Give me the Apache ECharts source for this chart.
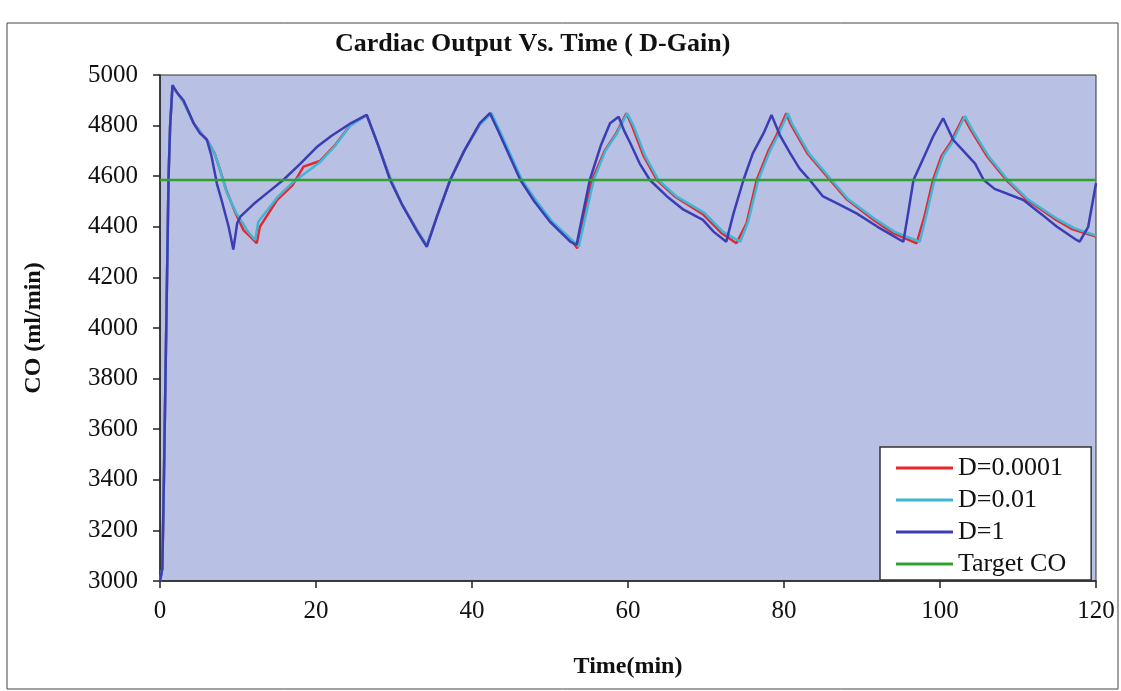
<!DOCTYPE html>
<html>
<head>
<meta charset="utf-8">
<title>Cardiac Output Vs. Time</title>
<script src="https://cdn.jsdelivr.net/npm/echarts@6/dist/echarts.min.js"></script>
<style>
html, body { margin: 0; padding: 0; background: #fff; }
#chart { width: 1121px; height: 691px; }
</style>
</head>
<body>
<div id="chart"></div>
<script>
// readings: [time (min), CO (ml/min)]
var xTicks = [0, 20, 40, 60, 80, 100, 120];
var yTicks = [3000, 3200, 3400, 3600, 3800, 4000, 4200, 4400, 4600, 4800, 5000];
var targetCO = 4585;

var dGain0001 = [
    [0, 3000], [0.3, 3050], [0.5, 3400], [0.7, 3800], [0.9, 4200], [1.1, 4600], [1.3, 4800], [1.6, 4955],
    [3.0, 4895], [4.3, 4810], [5.3, 4770], [6.2, 4735], [7, 4690], [7.7, 4625], [8.5, 4545], [9.6, 4460],
    [10.7, 4387], [11.6, 4360], [12.4, 4335], [12.8, 4400], [15, 4506], [17, 4565], [18.4, 4638], [20.5, 4660],
    [22.5, 4725], [24.4, 4802], [26.5, 4842], [26.9, 4810], [28, 4720], [29.6, 4585], [31, 4490], [33, 4385],
    [34.2, 4325], [35.5, 4440], [37.2, 4585], [39, 4700], [41, 4805], [42.4, 4849], [43.6, 4770], [46.3, 4585],
    [48.2, 4500], [50.2, 4420], [52.8, 4345], [53.5, 4315], [54.2, 4420], [55.4, 4585], [57, 4700], [58.5, 4770],
    [59.8, 4849], [60.5, 4800], [62, 4680], [63.7, 4585], [66, 4520], [69.6, 4450], [72, 4375], [73.9, 4335],
    [75.2, 4414], [76.5, 4585], [78, 4700], [79, 4760], [80.3, 4849], [80.8, 4809], [83, 4690], [85.9, 4585],
    [88, 4510], [91.5, 4427], [94, 4375], [97, 4335], [98, 4440], [99.1, 4585], [100.2, 4680], [101.3, 4730],
    [103, 4835], [104, 4780], [106, 4680], [108.5, 4585], [111, 4510], [114.9, 4427], [117, 4390], [120, 4361]
];

var dGain001 = [
    [0, 3000], [0.3, 3050], [0.5, 3400], [0.7, 3800], [0.9, 4200], [1.1, 4600], [1.3, 4800], [1.6, 4955],
    [3.0, 4895], [4.3, 4810], [5.3, 4770], [6.2, 4735], [7, 4690], [7.7, 4625], [8.5, 4540], [9.0, 4506],
    [9.8, 4453], [10.5, 4420], [11.3, 4380], [12.2, 4348], [12.6, 4420], [15, 4515], [17, 4575], [20.5, 4655],
    [22.5, 4722], [24.4, 4800], [26.5, 4842], [26.9, 4810], [28, 4720], [29.6, 4585], [31, 4490], [33, 4385],
    [34.2, 4325], [35.5, 4440], [37.2, 4585], [39, 4700], [41, 4805], [42.5, 4849], [43.7, 4770], [46.4, 4585],
    [48.3, 4500], [50.3, 4420], [52.9, 4345], [53.7, 4322], [54.4, 4420], [55.6, 4585], [57.1, 4700], [58.6, 4770],
    [59.9, 4849], [60.7, 4800], [62.2, 4680], [63.9, 4585], [66.2, 4520], [69.8, 4455], [72.2, 4380], [74.4, 4341],
    [75.4, 4420], [76.7, 4585], [78.2, 4700], [79.2, 4760], [80.5, 4849], [81, 4809], [83.2, 4690], [86.1, 4585],
    [88.2, 4510], [91.7, 4430], [94.2, 4380], [97.4, 4341], [98.2, 4440], [99.3, 4585], [100.4, 4680], [101.5, 4730],
    [103.2, 4838], [104.2, 4780], [106.2, 4680], [108.7, 4585], [111.2, 4510], [115.1, 4430], [117.2, 4395], [120, 4365]
];

var dGain1 = [
    [0, 3000], [0.3, 3050], [0.5, 3400], [0.7, 3800], [0.9, 4200], [1.1, 4600], [1.3, 4800], [1.6, 4960],
    [2.2, 4930], [3.0, 4900], [3.6, 4860], [4.3, 4810], [5.1, 4770], [6.0, 4745], [6.6, 4680], [7.3, 4570],
    [7.9, 4505], [8.8, 4400], [9.4, 4310], [9.9, 4415], [10.3, 4440], [12, 4490], [14, 4540], [15.8, 4585],
    [18, 4650], [20.1, 4715], [22, 4760], [24.5, 4810], [26.5, 4842], [26.9, 4810], [28, 4720], [29.5, 4585],
    [31, 4490], [33, 4380], [34.2, 4321], [35.5, 4440], [37.2, 4585], [39, 4700], [41, 4810], [42.3, 4849],
    [43.5, 4770], [46.2, 4585], [48, 4500], [50, 4420], [52.6, 4341], [53.4, 4328], [54, 4420], [55.1, 4585],
    [56.5, 4720], [57.7, 4809], [58.8, 4835], [59.5, 4780], [60.3, 4730], [61.5, 4650], [62.8, 4585], [65, 4520],
    [67, 4470], [69.6, 4427], [71, 4380], [72.6, 4341], [73.5, 4450], [74.8, 4585], [76, 4690], [77.4, 4771],
    [78.4, 4842], [79.5, 4760], [80.8, 4690], [82, 4630], [83.3, 4585], [85, 4520], [87, 4490], [89.3, 4453],
    [92, 4400], [94.9, 4348], [95.3, 4341], [96, 4470], [96.6, 4585], [98, 4680], [99.1, 4756], [100.4, 4829],
    [101.7, 4743], [103, 4700], [104.5, 4650], [105.6, 4585], [107, 4550], [110.7, 4506], [113, 4450], [115, 4400],
    [117.5, 4348], [117.9, 4341], [119, 4400], [120, 4572]
];

var target = [[xTicks[0], targetCO], [xTicks[xTicks.length - 1], targetCO]];

var chart = echarts.init(document.getElementById('chart'));

var serif = '"Liberation Serif", "Times New Roman", serif';

function lineSeries(name, data, color) {
    return {
        name: name,
        type: 'line',
        data: data,
        symbol: 'none',
        animation: false,
        lineStyle: { color: color, width: 2.5 },
        itemStyle: { color: color }
    };
}

var option = {
    backgroundColor: '#fff',
    title: {
        text: 'Cardiac Output Vs. Time ( D-Gain)',
        left: 330,
        top: 26,
        textStyle: { fontFamily: serif, fontSize: 26, fontWeight: 'bold', color: '#111' }
    },
    graphic: [{
        // outer frame of the chart
        type: 'rect',
        shape: { x: 7, y: 23, width: 1111, height: 666 },
        style: { fill: 'none', stroke: '#444', lineWidth: 1 },
        silent: true
    }],
    grid: {
        left: 160,
        right: 25,
        top: 75,
        bottom: 110,
        show: true,
        backgroundColor: '#b8c0e3',
        borderColor: '#333',
        borderWidth: 1
    },
    legend: {
        orient: 'vertical',
        left: 880,
        top: 447,
        padding: [8, 25, 3, 16],
        itemGap: 6,
        itemWidth: 57,
        itemHeight: 3,
        icon: 'rect',
        backgroundColor: '#fff',
        borderColor: '#333',
        borderWidth: 1.5,
        textStyle: { fontFamily: serif, fontSize: 26, color: '#111' },
        data: ['D=0.0001', 'D=0.01', 'D=1', 'Target CO']
    },
    xAxis: {
        type: 'value',
        min: xTicks[0],
        max: xTicks[xTicks.length - 1],
        interval: 20,
        name: 'Time(min)',
        nameLocation: 'middle',
        nameGap: 74,
        nameTextStyle: { fontFamily: serif, fontSize: 24, fontWeight: 'bold', color: '#111' },
        axisLine: { lineStyle: { color: '#222', width: 1.5 } },
        axisTick: { length: 7, lineStyle: { color: '#222', width: 1.5 } },
        axisLabel: { fontFamily: serif, fontSize: 25, color: '#111', margin: 18 },
        splitLine: { show: false }
    },
    yAxis: {
        type: 'value',
        min: yTicks[0],
        max: yTicks[yTicks.length - 1],
        interval: 200,
        name: 'CO (ml/min)',
        nameLocation: 'middle',
        nameGap: 114,
        nameRotate: 90,
        nameTextStyle: { fontFamily: serif, fontSize: 24, fontWeight: 'bold', color: '#111' },
        axisLine: { show: true, lineStyle: { color: '#222', width: 1.5 } },
        axisTick: { show: true, length: 7, lineStyle: { color: '#222', width: 1.5 } },
        axisLabel: {
            fontFamily: serif, fontSize: 25, color: '#111', margin: 22,
            formatter: function(v) { return String(v); }
        },
        splitLine: { show: false }
    },
    series: [
        lineSeries('D=0.0001', dGain0001, '#e8262b'),
        lineSeries('D=0.01', dGain001, '#3fb6d6'),
        lineSeries('D=1', dGain1, '#3b3db5'),
        lineSeries('Target CO', target, '#30a030')
    ]
};

chart.setOption(option);
</script>
</body>
</html>
